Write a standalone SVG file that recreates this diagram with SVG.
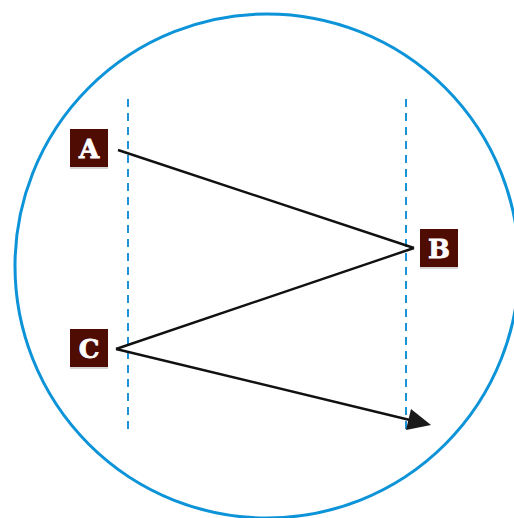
<svg xmlns="http://www.w3.org/2000/svg" width="514" height="518" viewBox="0 0 514 518">
  <style>
    .guide { stroke: #1a93d8; stroke-width: 2; stroke-dasharray: 8 6; fill: none; }
    .edge { stroke: #111; stroke-width: 2.4; fill: none; }
    .box { fill: #4e0c03; }
    .shadow { fill: #d6d6d6; }
    .lbl { font-family: "DejaVu Serif", "Liberation Serif", serif; font-weight: 900; font-size: 26px; fill: #fff; text-anchor: middle; stroke: #fff; stroke-width: 0.8; }
  </style>
  <rect width="514" height="518" fill="#fff"/>
  <circle cx="267" cy="266" r="252" fill="none" stroke="#0c93d8" stroke-width="3"/>
  <g id="guides">
    <line class="guide" x1="128" y1="99" x2="128" y2="432"/>
    <line class="guide" x1="406" y1="99" x2="406" y2="432"/>
  </g>
  <g id="connectors">
    <line class="edge" x1="118" y1="150" x2="414" y2="248"/>
    <line class="edge" x1="414" y1="248" x2="116" y2="349"/>
    <line class="edge" x1="116" y1="349" x2="414" y2="421"/>
    <path d="M431,425 L411,409 L406,430 z" fill="#1a1a1a"/>
  </g>
  <g id="node-a">
    <rect class="shadow" x="70" y="166" width="38" height="3"/>
    <rect class="box" x="70" y="129" width="38" height="38"/>
    <text class="lbl" x="89" y="158">A</text>
  </g>
  <g id="node-b">
    <rect class="shadow" x="420" y="266" width="38" height="3"/>
    <rect class="box" x="420" y="229" width="38" height="38"/>
    <text class="lbl" x="439" y="258">B</text>
  </g>
  <g id="node-c">
    <rect class="shadow" x="70" y="366" width="38" height="3"/>
    <rect class="box" x="70" y="329" width="38" height="38"/>
    <text class="lbl" x="89" y="358">C</text>
  </g>
</svg>
